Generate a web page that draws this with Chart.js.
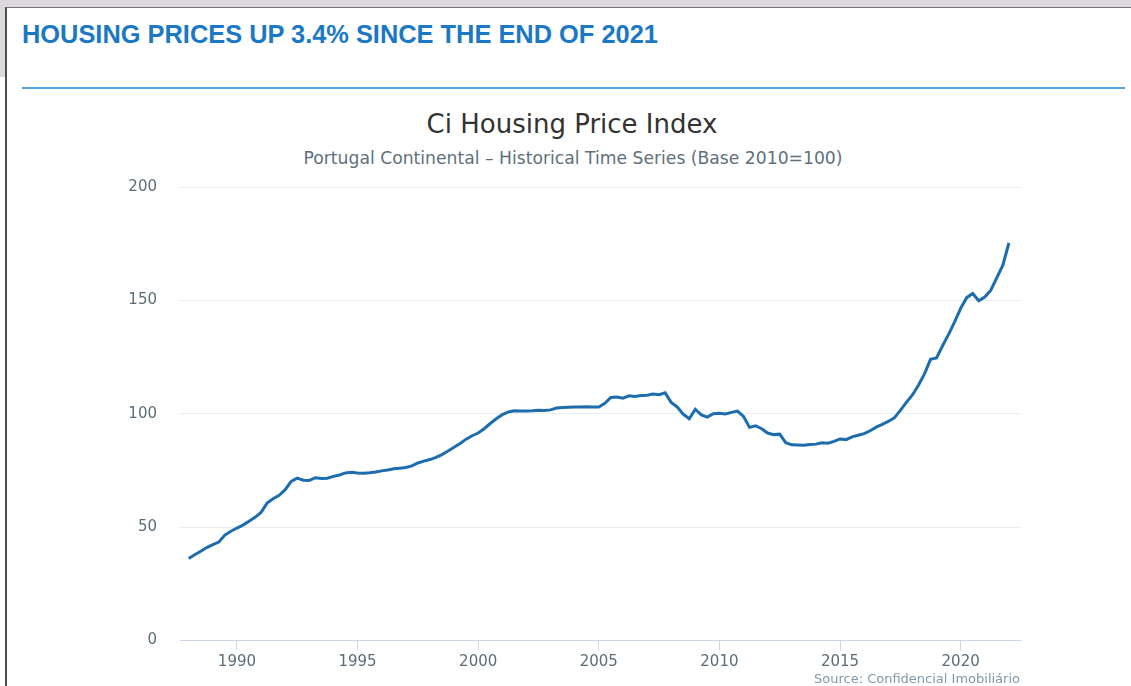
<!DOCTYPE html>
<html>
<head>
<meta charset="utf-8">
<script src="https://cdn.jsdelivr.net/npm/chart.js@4.4.1/dist/chart.umd.min.js"></script>
<style>
html,body{margin:0;padding:0;background:#fff;width:1131px;height:686px;overflow:hidden;position:relative;font-family:"DejaVu Sans",sans-serif;}
#topbar{position:absolute;left:0;top:0;width:1131px;height:7px;background:#dcd8de;}
#leftbar{position:absolute;left:0;top:0;width:5px;height:77px;background:#dcd8de;}
#card{position:absolute;left:5px;top:7px;width:1126px;height:679px;border-left:2px solid #4d4d4d;border-top:1px solid #777;box-sizing:border-box;}
#headline{position:absolute;left:22px;top:20px;line-height:28px;font-family:"Liberation Sans",Arial,sans-serif;font-weight:bold;font-size:25.4px;color:#1b78c4;white-space:nowrap;}
#rule{position:absolute;left:22px;top:87px;width:1103px;height:2px;background:#4ea3e3;}
#title{position:absolute;left:272px;width:600px;top:109px;line-height:30px;text-align:center;font-family:"DejaVu Sans";font-size:26px;color:#333;white-space:nowrap;}
#subtitle{position:absolute;left:273px;width:600px;top:148px;line-height:20px;text-align:center;font-family:"DejaVu Sans";font-size:17.2px;color:#5d707c;white-space:nowrap;}
#chartWrap{position:absolute;left:0;top:155px;width:1131px;height:531px;}
#source{position:absolute;right:111px;top:671px;line-height:16px;font-family:"DejaVu Sans";font-size:13px;color:#7c9ab0;white-space:nowrap;}
</style>
</head>
<body>
<div id="topbar"></div>
<div id="leftbar"></div>
<div id="card"></div>
<div id="headline">HOUSING PRICES UP 3.4% SINCE THE END OF 2021</div>
<div id="rule"></div>
<div id="title">Ci Housing Price Index</div>
<div id="subtitle">Portugal Continental – Historical Time Series (Base 2010=100)</div>
<div id="chartWrap"><canvas id="c" width="1131" height="531"></canvas></div>
<div id="source">Source: Confidencial Imobiliário</div>
<script>
// Quarterly series, first observation Q1 1988
const firstPeriod = 1988.0;
const periodsPerYear = 4;
const indexValues = [
  36.2, 37.8, 39.4, 41.0,   // 1988
  42.3, 43.4, 46.5, 48.2,   // 1989
  49.6, 50.9, 52.6, 54.3,   // 1990
  56.5, 60.6, 62.5, 64.0,   // 1991
  66.5, 70.2, 71.6, 70.7,   // 1992
  70.6, 71.8, 71.4, 71.6,   // 1993
  72.4, 73.0, 73.9, 74.2,   // 1994
  73.9, 73.8, 74.0, 74.3,   // 1995
  74.8, 75.2, 75.7, 76.0,   // 1996
  76.3, 77.0, 78.3, 79.1,   // 1997
  79.8, 80.8, 82.0, 83.6,   // 1998
  85.2, 86.9, 88.8, 90.3,   // 1999
  91.5, 93.4, 95.7, 97.8,   // 2000
  99.6, 100.8, 101.3, 101.2, // 2001
  101.2, 101.3, 101.5, 101.4, // 2002
  101.7, 102.5, 102.8, 102.9, // 2003
  103.0, 103.0, 103.1, 103.0, // 2004
  103.0, 104.6, 107.2, 107.4, // 2005
  106.9, 107.9, 107.6, 108.0, // 2006
  108.2, 108.7, 108.4, 109.2, // 2007
  105.0, 103.0, 99.8, 97.8,  // 2008
  102.0, 99.5, 98.5, 100.0,  // 2009
  100.2, 99.9, 100.6, 101.2, // 2010
  98.8, 94.0, 94.7, 93.4,    // 2011
  91.5, 90.8, 91.0, 87.2,    // 2012
  86.3, 86.2, 86.1, 86.4,    // 2013
  86.6, 87.2, 87.0, 87.8,    // 2014
  88.9, 88.6, 89.8, 90.5,    // 2015
  91.2, 92.5, 94.1, 95.3,    // 2016
  96.6, 98.2, 101.5, 105.0,  // 2017
  108.3, 112.6, 117.6, 124.0, // 2018
  124.6, 130.0, 135.0, 140.5, // 2019
  146.5, 151.2, 153.0, 149.8, // 2020
  151.5, 154.5, 160.0, 165.5, // 2021
  175.3                      // 2022
];
const xTickYears = [1990, 1995, 2000, 2005, 2010, 2015, 2020];
const yTickValues = [0, 50, 100, 150, 200];
const xMin = 1987.64, xMax = 2022.46;
const yMin = 0, yMax = 200;

const points = indexValues.map((v, i) => ({ x: firstPeriod + i / periodsPerYear, y: v }));
const tickFont = { family: 'DejaVu Sans', size: 15 };
const tickColor = '#5b6e78';

new Chart(document.getElementById('c').getContext('2d'), {
  type: 'line',
  data: {
    datasets: [{
      data: points,
      borderColor: '#1c6cae',
      borderWidth: 3,
      pointRadius: 0,
      tension: 0,
      fill: false
    }]
  },
  options: {
    responsive: false,
    animation: false,
    maintainAspectRatio: false,
    layout: { padding: { top: 0, right: 111, bottom: 0, left: 0 } },
    plugins: { legend: { display: false }, tooltip: { enabled: false }, title: { display: false } },
    scales: {
      x: {
        type: 'linear',
        min: xMin,
        max: xMax,
        afterBuildTicks: s => { s.ticks = xTickYears.map(v => ({ value: v })); },
        afterFit: s => { s.height = 45.5; },
        ticks: { callback: v => String(v), font: tickFont, color: tickColor, padding: 3, maxRotation: 0, autoSkip: false },
        grid: { drawOnChartArea: false, drawTicks: true, tickLength: 10, color: '#ccd6eb', lineWidth: 1 },
        border: { display: true, color: '#ccd6eb', width: 1 }
      },
      y: {
        min: yMin,
        max: yMax,
        afterBuildTicks: s => { s.ticks = yTickValues.map(v => ({ value: v })); },
        afterFit: s => { s.width = 180; },
        ticks: { font: tickFont, color: tickColor, padding: 23 },
        grid: { drawTicks: false, color: '#e8eef5', lineWidth: 1 },
        border: { display: false }
      }
    }
  }
});
</script>
</body>
</html>
